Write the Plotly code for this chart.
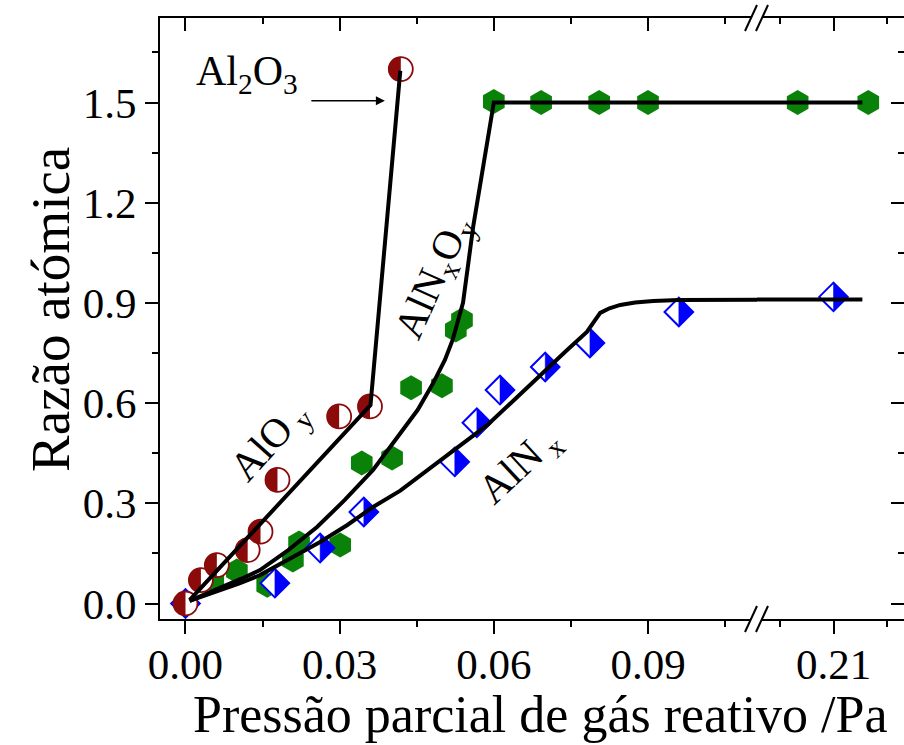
import numpy as np
import plotly.graph_objects as go

# ---------------- data ----------------
aloy_x = [0.0, 0.0030, 0.0061, 0.0121, 0.0146, 0.0179, 0.0299, 0.0359, 0.0419]
aloy_y = [0.0, 0.070, 0.115, 0.160, 0.215, 0.370, 0.560, 0.590, 1.600]

alnxoy_x = [0.0, 0.0054, 0.0100, 0.0159, 0.0209, 0.0221, 0.0301, 0.0343, 0.0402,
            0.0439, 0.0499, 0.0526, 0.0538, 0.0600, 0.0692, 0.0805, 0.0900, 0.2033, 0.2165]
alnxoy_y = [0.0, 0.070, 0.097, 0.055, 0.130, 0.181, 0.175, 0.421, 0.436,
            0.646, 0.652, 0.819, 0.849, 1.503, 1.500, 1.500, 1.500, 1.500, 1.500]

alnx_x = [0.0, 0.0174, 0.0262, 0.0347, 0.0524, 0.0567, 0.0612, 0.0700, 0.0787, 0.0960, 0.2100]
alnx_y = [0.0, 0.061, 0.166, 0.274, 0.424, 0.541, 0.639, 0.708, 0.780, 0.873, 0.918]

aloy_fit_x = [0.0008, 0.0360, 0.0418]
aloy_fit_y = [0.010, 0.594, 1.595]

alnxoy_fit_x = [0.0008, 0.0035, 0.0070, 0.0110, 0.0145, 0.0200, 0.0256, 0.0310, 0.0365,
                0.0417, 0.0452, 0.0482, 0.0505, 0.0520, 0.0540, 0.0560, 0.0580,
                0.0596, 0.0600, 0.2154]
alnxoy_fit_y = [0.008, 0.025, 0.048, 0.075, 0.100, 0.160, 0.229, 0.310, 0.400,
                0.510, 0.580, 0.660, 0.730, 0.790, 0.900, 1.130, 1.320,
                1.478, 1.500, 1.500]

alnx_fit_x = [0.0008, 0.0035, 0.0070, 0.0105, 0.0145, 0.0200, 0.0262, 0.0315, 0.0365,
              0.0418, 0.0470, 0.0521, 0.0587, 0.0640, 0.0696, 0.0740, 0.0781,
              0.0807, 0.0825, 0.0846, 0.0875, 0.0910, 0.0960, 0.1000, 0.2154]
alnx_fit_y = [0.008, 0.022, 0.040, 0.060, 0.085, 0.130, 0.184, 0.235, 0.289,
              0.338, 0.398, 0.460, 0.534, 0.610, 0.693, 0.755, 0.813,
              0.870, 0.884, 0.894, 0.901, 0.906, 0.909, 0.910, 0.910]

left_ticks = [0.00, 0.03, 0.06, 0.09]
right_ticks = [0.21]
y_ticks = [0.0, 0.3, 0.6, 0.9, 1.2, 1.5]

# ---------------- layout geometry ----------------
W, H = 904, 745
ML, MR, MT, MB = 160, 0, 18, 126
PW, PH = W - ML - MR, H - MT - MB
XL = [-0.00496, 0.11121]
XR = [0.1957, 0.22318]
YR = [-0.0464, 1.7530]
FB = 597 / PW
kxl = FB * PW / (XL[1] - XL[0])
kxr = (1 - FB) * PW / (XR[1] - XR[0])
ky = PH / (YR[1] - YR[0])
BRK = XL[1]

RED = "#8b0a0a"
GREEN = "#0a820a"
BLUE = "#0000ff"
FONT = "Liberation Serif"

CIRC = 24
DIAM = 22
HEX = 25


def split(xs, ys):
    l = [(x, y) for x, y in zip(xs, ys) if x <= BRK]
    r = [(x, y) for x, y in zip(xs, ys) if x > BRK]
    return ([p[0] for p in l], [p[1] for p in l]), ([p[0] for p in r], [p[1] for p in r])


def half_circle(xs, ys, r, kx):
    px, py = [], []
    t = np.linspace(np.pi / 2, 3 * np.pi / 2, 30)
    for x, y in zip(xs, ys):
        px += list(x + r * np.cos(t) / kx) + [None]
        py += list(y + r * np.sin(t) / ky) + [None]
    return px, py


def half_diamond(xs, ys, rd, kx):
    px, py = [], []
    for x, y in zip(xs, ys):
        px += [x, x + rd / kx, x, x, None]
        py += [y + rd / ky, y, y - rd / ky, y + rd / ky, None]
    return px, py


fig = go.Figure()

# green hexagons
(gl, gr) = split(alnxoy_x, alnxoy_y)
for (xx, yy), xa in ((gl, "x"), (gr, "x2")):
    fig.add_trace(go.Scatter(x=xx, y=yy, mode="markers", xaxis=xa, yaxis="y",
                             marker=dict(symbol="hexagon", size=HEX, color=GREEN,
                                         line=dict(width=0)),
                             showlegend=False, hoverinfo="skip"))

# blue half-filled diamonds
(bl, br) = split(alnx_x, alnx_y)
for (xx, yy), xa, kx in ((bl, "x", kxl), (br, "x2", kxr)):
    fig.add_trace(go.Scatter(x=xx, y=yy, mode="markers", xaxis=xa, yaxis="y",
                             marker=dict(symbol="diamond", size=DIAM, color="white",
                                         line=dict(width=2, color=BLUE)),
                             showlegend=False, hoverinfo="skip"))
    hx, hy = half_diamond(xx, yy, 1.3 * DIAM / 2, kx)
    fig.add_trace(go.Scatter(x=hx, y=hy, mode="lines", xaxis=xa, yaxis="y",
                             fill="toself", fillcolor=BLUE,
                             line=dict(width=0.5, color=BLUE),
                             showlegend=False, hoverinfo="skip"))

# red half-filled circles
fig.add_trace(go.Scatter(x=aloy_x, y=aloy_y, mode="markers", xaxis="x", yaxis="y",
                         marker=dict(symbol="circle", size=CIRC, color="white",
                                     line=dict(width=1.8, color=RED)),
                         showlegend=False, hoverinfo="skip"))
hx, hy = half_circle(aloy_x, aloy_y, CIRC / 2, kxl)
fig.add_trace(go.Scatter(x=hx, y=hy, mode="lines", xaxis="x", yaxis="y",
                         fill="toself", fillcolor=RED, line=dict(width=0.5, color=RED),
                         showlegend=False, hoverinfo="skip"))

# fitted lines (drawn in both segments; each segment clips its own part)
for fx, fy in ((aloy_fit_x, aloy_fit_y), (alnxoy_fit_x, alnxoy_fit_y), (alnx_fit_x, alnx_fit_y)):
    for xa in ("x", "x2"):
        fig.add_trace(go.Scatter(x=fx, y=fy, mode="lines", xaxis=xa, yaxis="y",
                                 line=dict(color="black", width=4),
                                 showlegend=False, hoverinfo="skip"))

# empty traces so overlay axes exist
for xa, ya in (("x3", "y"), ("x4", "y"), ("x2", "y2")):
    fig.add_trace(go.Scatter(x=[], y=[], xaxis=xa, yaxis=ya, showlegend=False))

tickfont = dict(family=FONT, size=43, color="black")
common = dict(showline=True, linewidth=2, linecolor="black", showgrid=False,
              zeroline=False, tickwidth=2, tickcolor="black", ticklen=13)
mxl = [0.015, 0.045, 0.075, 0.105]
mxr = [0.20, 0.22]
my = [0.15, 0.45, 0.75, 1.05, 1.35, 1.65]


def minor(vals, side):
    return dict(tickvals=vals, ticks=side, ticklen=6, tickwidth=2, tickcolor="black")


fig.update_layout(
    width=W, height=H,
    margin=dict(l=ML, r=MR, t=MT, b=MB),
    paper_bgcolor="white", plot_bgcolor="white",
    xaxis=dict(domain=[0, FB], range=XL, anchor="y", ticks="outside",
               tickvals=left_ticks, ticktext=[f"{v:.2f}" for v in left_ticks],
               ticklabelstandoff=-7,
               minor=minor(mxl, "outside"), tickfont=tickfont, **common),
    xaxis2=dict(domain=[FB, 1], range=XR, anchor="y", ticks="outside",
                tickvals=right_ticks, ticktext=[f"{v:.2f}" for v in right_ticks],
                ticklabelstandoff=-7,
                minor=minor(mxr, "outside"), tickfont=tickfont, **common),
    xaxis3=dict(overlaying="x", side="top", range=XL, anchor="y", ticks="inside",
                tickvals=left_ticks, showticklabels=False,
                minor=minor(mxl, "inside"), **common),
    xaxis4=dict(overlaying="x2", side="top", range=XR, anchor="y", ticks="inside",
                tickvals=right_ticks, showticklabels=False,
                minor=minor(mxr, "inside"), **common),
    yaxis=dict(domain=[0, 1], range=YR, anchor="x", ticks="outside",
               tickvals=y_ticks, ticktext=[f"{v:.1f}" for v in y_ticks],
               minor=minor(my, "outside"), tickfont=tickfont, **common),
    yaxis2=dict(overlaying="y", side="right", range=YR, anchor="x2", ticks="inside",
                tickvals=y_ticks, showticklabels=False,
                minor=minor(my, "inside"), **common),
)

labfont = dict(family=FONT, size=41, color="black")
annotations = [
    dict(text="Pressão parcial de gás reativo /Pa", xref="paper", yref="paper",
         x=(540 - ML) / PW, y=-(714 - (H - MB)) / PH, showarrow=False,
         font=dict(family=FONT, size=52, color="black"), xanchor="center", yanchor="middle"),
    dict(text="Razão atómica", xref="paper", yref="paper",
         x=(50 - ML) / PW, y=((H - MB) - 310) / PH, showarrow=False, textangle=-90,
         font=dict(family=FONT, size=55, color="black"), xanchor="center", yanchor="middle"),
    dict(text="Al<sub>2</sub>O<sub>3</sub>", xref="x", yref="y", x=0.0119, y=1.585,
         showarrow=False, font=dict(family=FONT, size=42, color="black")),
    dict(text="", xref="x", yref="y", x=0.0388, y=1.505, ax=-75, ay=0,
         showarrow=True, arrowhead=2, arrowsize=1.2, arrowwidth=1.5, arrowcolor="black"),
    dict(text="AlO<sub> y</sub>", xref="x", yref="y", x=0.0165, y=0.485, textangle=-48,
         showarrow=False, font=labfont),
    dict(text="AlN<sub>x</sub>O<sub>y</sub>", xref="x", yref="y", x=0.0485, y=0.975,
         textangle=-66, showarrow=False, font=labfont),
    dict(text="AlN<sub> x</sub>", xref="x", yref="y", x=0.0650, y=0.41, textangle=-43,
         showarrow=False, font=labfont),
]
fig.update_layout(annotations=annotations)

# axis-break marks
shapes = []
for ya in (0, 1):
    shapes.append(dict(type="rect", xref="paper", yref="paper", xsizemode="pixel",
                       ysizemode="pixel", xanchor=FB, yanchor=ya, x0=-6, x1=5, y0=-3, y1=3,
                       fillcolor="white", line=dict(width=0), layer="above"))
    for dx in (-6, 5):
        shapes.append(dict(type="line", xref="paper", yref="paper", xsizemode="pixel",
                           ysizemode="pixel", xanchor=FB, yanchor=ya,
                           x0=dx - 6, x1=dx + 6, y0=-13, y1=13,
                           line=dict(color="black", width=2), layer="above"))
fig.update_layout(shapes=shapes)

fig.write_html("out.html")
